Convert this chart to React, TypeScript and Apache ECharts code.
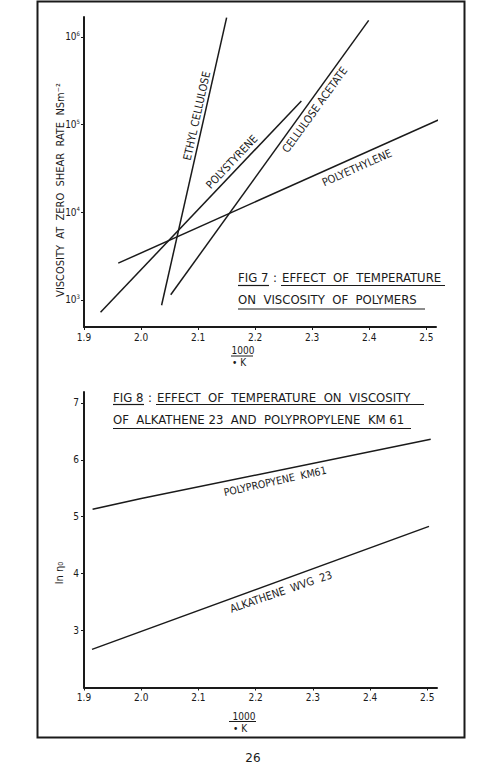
import React, { useEffect, useRef } from "react";
import * as echarts from "echarts";

// ---------- DATA ----------
// x values are 1000/°K ; FIG 7 y values are log10(viscosity, NSm^-2) ; FIG 8 y values are ln(eta0)
const xTickValues = [1.9, 2.0, 2.1, 2.2, 2.3, 2.4, 2.5];
const fig7Exponents = [3, 4, 5, 6];
const fig8Ticks = [3, 4, 5, 6, 7];

const ethylCellulose = [
  [2.036, 2.94],
  [2.15, 6.22],
];
const polystyrene = [
  [1.929, 2.86],
  [2.281, 5.27],
];
const celluloseAcetate = [
  [2.052, 3.06],
  [2.399, 6.19],
];
const polyethylene = [
  [1.96, 3.42],
  [2.537, 5.1],
];

const polypropyleneKM61 = [
  [1.915, 5.13],
  [2.0, 5.32],
  [2.506, 6.36],
];
const alkatheneWVG23 = [
  [1.914, 2.67],
  [2.503, 4.83],
];

const FONT = "'DejaVu Sans Condensed', 'DejaVu Sans', sans-serif";
const INK = "#1a1a1a";

export default function App() {
  const ref = useRef<HTMLDivElement>(null);

  useEffect(() => {
    document.body.style.margin = "0";
    if (!ref.current) return;
    const chart = echarts.init(ref.current, null, { renderer: "svg" });

    const lineSeries = (name: string, data: number[][], idx: number) => ({
      name,
      type: "line",
      xAxisIndex: idx,
      yAxisIndex: idx,
      data,
      showSymbol: false,
      symbol: "none",
      clip: false,
      silent: true,
      lineStyle: { color: INK, width: 1.5 },
    });

    const xAxisBase = (gridIndex: number) => ({
      type: "value",
      gridIndex,
      min: 1.9,
      max: 2.517,
      axisLine: { show: true, lineStyle: { color: INK, width: 2 } },
      axisTick: { show: true, length: 3, customValues: xTickValues, lineStyle: { color: INK } },
      axisLabel: {
        customValues: xTickValues,
        formatter: (v: number) => v.toFixed(1),
        fontFamily: FONT,
        fontSize: 10,
        color: INK,
        margin: 5,
      },
      splitLine: { show: false },
    });

    const txt = (
      text: string,
      x: number,
      y: number,
      fontSize: number,
      rotationDeg = 0,
      align = "center",
      extra: any = {}
    ) => ({
      type: "text",
      x,
      y,
      rotation: (rotationDeg * Math.PI) / 180,
      z: 10,
      style: {
        text,
        fontFamily: FONT,
        fontSize,
        fill: INK,
        textAlign: align,
        textVerticalAlign: "middle",
        ...extra,
      },
    });

    const ln = (x1: number, y1: number, x2: number, y2: number, w = 1) => ({
      type: "line",
      z: 10,
      shape: { x1, y1, x2, y2 },
      style: { stroke: INK, lineWidth: w },
    });

    const option: any = {
      animation: false,
      backgroundColor: "#ffffff",
      grid: [
        { left: 84, top: 17, width: 352, height: 310 },
        { left: 84, top: 392, width: 353, height: 295.5 },
      ],
      xAxis: [xAxisBase(0), xAxisBase(1)],
      yAxis: [
        {
          type: "value",
          gridIndex: 0,
          min: 2.692,
          max: 6.228,
          axisLine: { show: true, lineStyle: { color: INK, width: 2 } },
          axisTick: { show: true, length: 3, customValues: fig7Exponents, lineStyle: { color: INK } },
          axisLabel: {
            customValues: fig7Exponents,
            formatter: (v: number) => `{b|10}{s|${Math.round(v)}}`,
            margin: 4,
            rich: {
              b: { fontFamily: FONT, fontSize: 10, color: INK },
              s: { fontFamily: FONT, fontSize: 6, color: INK, padding: [0, 0, 7, 0] },
            },
          },
          splitLine: { show: false },
        },
        {
          type: "value",
          gridIndex: 1,
          min: 2,
          max: 7.19,
          axisLine: { show: true, lineStyle: { color: INK, width: 2 } },
          axisTick: { show: true, length: 3, customValues: fig8Ticks, lineStyle: { color: INK } },
          axisLabel: {
            customValues: fig8Ticks,
            formatter: (v: number) => String(Math.round(v)),
            fontFamily: FONT,
            fontSize: 10,
            color: INK,
            margin: 5,
          },
          splitLine: { show: false },
        },
      ],
      series: [
        lineSeries("Ethyl cellulose", ethylCellulose, 0),
        lineSeries("Polystyrene", polystyrene, 0),
        lineSeries("Cellulose acetate", celluloseAcetate, 0),
        lineSeries("Polyethylene", polyethylene, 0),
        lineSeries("Polypropylene KM61", polypropyleneKM61, 1),
        lineSeries("Alkathene WVG 23", alkatheneWVG23, 1),
      ],
      graphic: [
        // outer frame
        {
          type: "rect",
          z: 10,
          shape: { x: 37.5, y: 1.5, width: 427, height: 736 },
          style: { fill: "none", stroke: INK, lineWidth: 2 },
        },
        // FIG 7 axis names
        txt("VISCOSITY  AT  ZERO  SHEAR  RATE  NSm⁻²", 60, 190, 11, 90),
        txt("1000", 243, 350.5, 10),
        ln(231, 356, 253, 356, 1),
        txt("• K", 239, 362.5, 10),
        // FIG 7 line labels
        txt("ETHYL CELLULOSE", 197, 116, 11, 77.4),
        txt("POLYSTYRENE", 232, 162, 11, 46.5),
        txt("CELLULOSE ACETATE", 315, 110, 11, 54.2),
        txt("POLYETHYLENE", 357, 168, 11, 24.1),
        // FIG 7 title
        txt("FIG 7", 238, 277.5, 13, 0, "left"),
        txt(":", 275, 277.5, 13, 0, "center"),
        txt("EFFECT  OF  TEMPERATURE", 282, 277.5, 13, 0, "left"),
        ln(238, 285.5, 269, 285.5, 1.2),
        ln(281, 285.5, 445, 285.5, 1.2),
        txt("ON  VISCOSITY  OF  POLYMERS", 238, 299.5, 13, 0, "left"),
        ln(238, 309, 425, 309, 1.2),
        // FIG 8 title
        txt("FIG 8", 113, 397.5, 13, 0, "left"),
        txt(":", 150, 397.5, 13, 0, "center"),
        txt("EFFECT  OF  TEMPERATURE  ON  VISCOSITY", 157, 397.5, 13, 0, "left"),
        ln(113, 404.5, 144, 404.5, 1.2),
        ln(156, 404.5, 424, 404.5, 1.2),
        txt("OF  ALKATHENE 23  AND  POLYPROPYLENE  KM 61", 113, 419.5, 13, 0, "left"),
        ln(113, 428.5, 411, 428.5, 1.2),
        // FIG 8 line labels
        txt("POLYPROPYENE  KM61", 275, 481, 10.5, 12.5),
        txt("ALKATHENE  WVG  23", 281, 592, 11, 19),
        // FIG 8 axis names
        txt("ln η₀", 59, 573, 11, 90),
        txt("1000", 244, 716.5, 10),
        ln(229, 721.5, 256, 721.5, 1),
        txt("• K", 240, 728, 10),
        // page number
        txt("26", 253, 758, 12, 0, "center", { fontFamily: "'DejaVu Sans', sans-serif" }),
      ],
    };

    chart.setOption(option);
    return () => chart.dispose();
  }, []);

  return <div ref={ref} style={{ width: 492, height: 774, background: "#fff" }} />;
}
